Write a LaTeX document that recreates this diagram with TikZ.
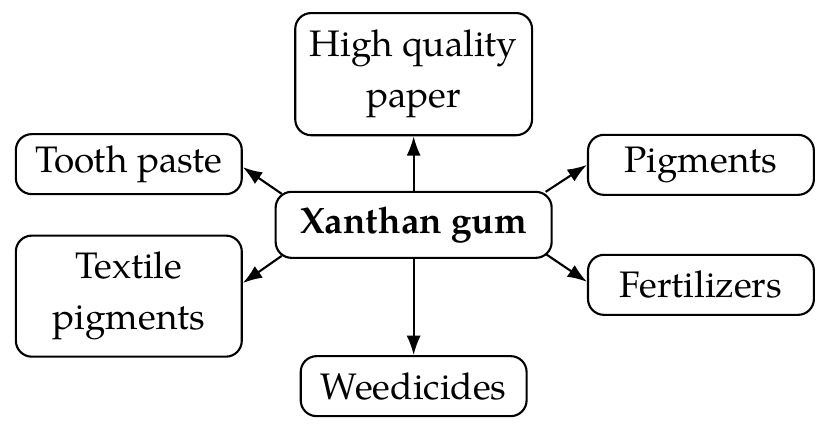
\documentclass[tikz,border=0pt]{standalone}
\usepackage{fontspec}
\setmainfont{TeX Gyre Pagella}
\usetikzlibrary{arrows.meta}

\begin{document}
\begin{tikzpicture}[
        appbox/.style={draw, line width=0.6pt, rounded corners=4.5pt, align=center, inner sep=2pt,
            minimum width=64pt, minimum height=17pt, font=\fontsize{10.45}{14.4}\selectfont},
        arrow/.style={-{Latex[length=5.5pt,width=4pt]}, line width=0.6pt}]

    \useasboundingbox (0,0) rectangle (234.6pt,-121.5pt);

    % Mitte
    \node[appbox, minimum width=78.2pt, minimum height=18.7pt] (xg) at (117.2pt,-63.7pt) {\textbf{Xanthan gum}};

    % Anwendungen
    \node[appbox, minimum width=67.1pt, minimum height=34.6pt] (hq) at (117.2pt,-21pt) {High quality\\paper};
    \node[appbox] (tp) at (36.5pt,-46.5pt) {Tooth paste};
    \node[appbox] (pg) at (198.6pt,-46.7pt) {Pigments};
    \node[appbox, minimum height=34.3pt] (tx) at (36.5pt,-83.9pt) {Textile\\pigments};
    \node[appbox] (fz) at (198.6pt,-80.7pt) {Fertilizers};
    \node[appbox] (wd) at (117.2pt,-109.4pt) {Weedicides};

    % Pfeile
    \draw[arrow] (xg.north) -- (hq.south);
    \draw[arrow] (xg.south) -- (wd.north);
    \draw[arrow] ([xshift=2pt,yshift=-0.85pt]xg.north west) -- ([yshift=-0.85pt]tp.east);
    \draw[arrow] ([xshift=-2pt,yshift=-0.3pt]xg.north east) -- (pg.west);
    \draw[arrow] ([xshift=2pt,yshift=0.85pt]xg.south west) -- ([yshift=3.7pt]tx.east);
    \draw[arrow] ([xshift=-2pt,yshift=1.4pt]xg.south east) -- ([yshift=0.85pt]fz.west);

\end{tikzpicture}
\end{document}
